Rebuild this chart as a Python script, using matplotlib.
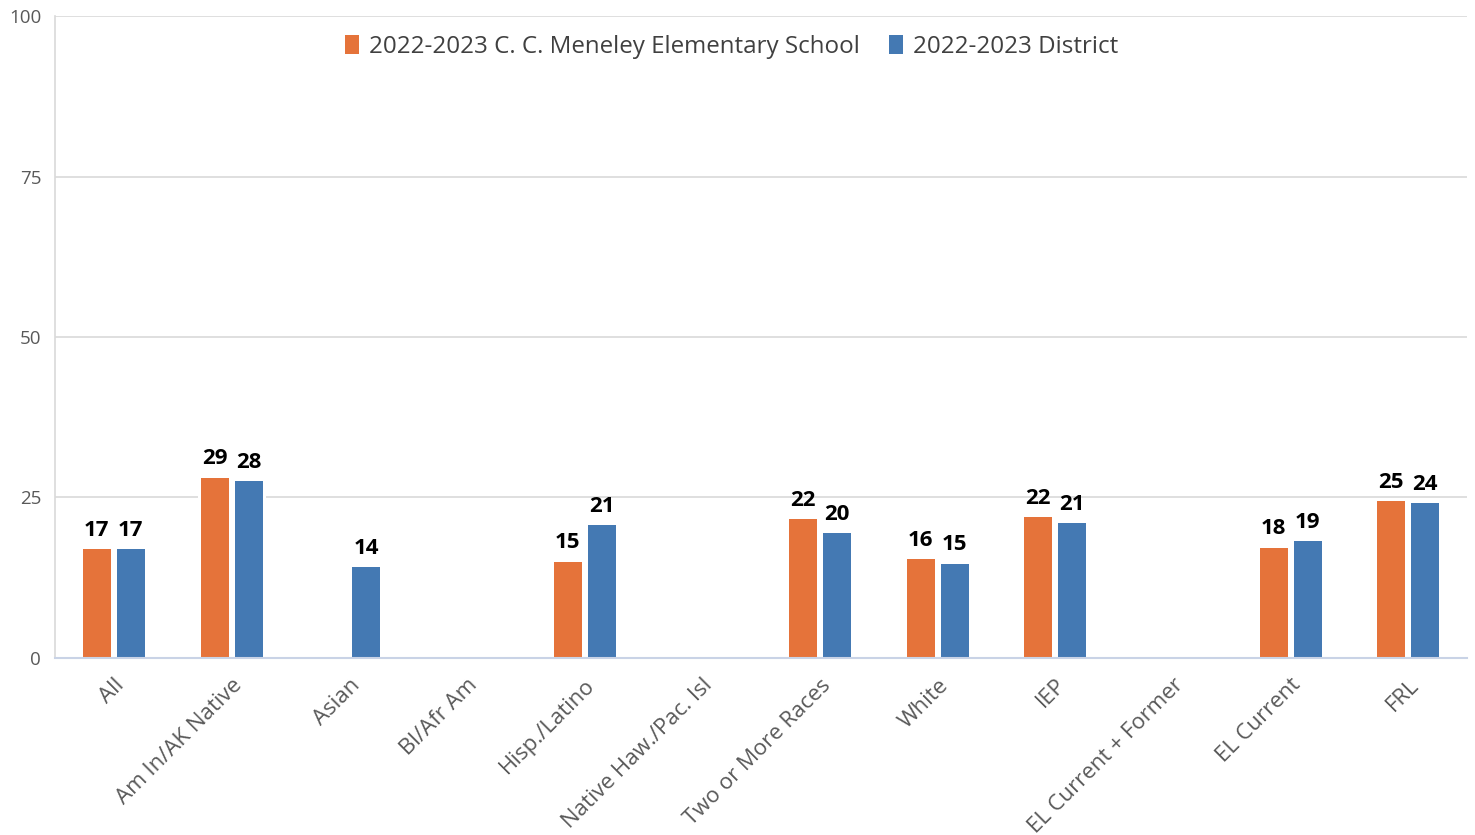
import matplotlib
matplotlib.use("Agg")
import matplotlib.pyplot as plt
import numpy as np

categories = ["All", "Am In/AK Native", "Asian", "Bl/Afr Am", "Hisp./Latino",
              "Native Haw./Pac. Isl", "Two or More Races", "White", "IEP",
              "EL Current + Former", "EL Current", "FRL"]
school = [16.9, 28.1, None, None, 15.0, None, 21.6, 15.4, 21.9, None, 17.2, 24.4]
district = [16.9, 27.5, 14.1, None, 20.7, None, 19.4, 14.7, 21.0, None, 18.2, 24.1]
school_labels = ["17", "29", "", "", "15", "", "22", "16", "22", "", "18", "25"]
district_labels = ["17", "28", "14", "", "21", "", "20", "15", "21", "", "19", "24"]
series_names = ["2022-2023 C. C. Meneley Elementary School", "2022-2023 District"]
yticks = [0, 25, 50, 75, 100]

plt.rcParams['font.family'] = ['Open Sans', 'DejaVu Sans']

orange = "#E5733A"
blue = "#4479B3"

fig = plt.figure(figsize=(14.75, 8.35), dpi=100)
ax = fig.add_axes([0.0373, 0.212, 0.9573, 0.7688])

x = np.arange(len(categories))
slot = 0.289
w = 0.238
for vals, labs, off, col, name in [(school, school_labels, -slot / 2, orange, series_names[0]),
                                  (district, district_labels, slot / 2, blue, series_names[1])]:
    xs = [xi + off for xi, v in zip(x, vals) if v is not None]
    vs = [v for v in vals if v is not None]
    ls = [l for l, v in zip(labs, vals) if v is not None]
    ax.bar(xs, vs, width=slot, color="white", linewidth=0, zorder=2.5)
    ax.bar(xs, vs, width=w, color=col, linewidth=0, label=name, zorder=3)
    for xi, v, l in zip(xs, vs, ls):
        ax.annotate(l, (xi, v), xytext=(0, 6), textcoords="offset points",
                    ha="center", va="bottom", fontsize=16, fontweight="bold", color="black", zorder=4)

ax.set_xlim(-0.5, len(categories) - 0.5)
ax.set_ylim(0, 100)
ax.set_yticks(yticks)
ax.set_yticklabels([str(t) for t in yticks], fontsize=13.5, color="#595959")
ax.yaxis.grid(True, color="#D9D9D9", linewidth=1.2, zorder=0)
ax.set_axisbelow(True)
ax.tick_params(axis="y", length=0, pad=10)
ax.tick_params(axis="x", length=0, pad=12)

ax.set_xticks(x)
ax.set_xticklabels(categories, rotation=45, ha="right", rotation_mode="anchor",
                   fontsize=16, color="#595959")

for s in ["top", "right"]:
    ax.spines[s].set_visible(False)
ax.spines["left"].set_color("#D9D9D9")
ax.spines["left"].set_linewidth(1.2)
ax.spines["bottom"].set_color("#C9D3E6")
ax.spines["bottom"].set_linewidth(1.5)
ax.spines["bottom"].set_zorder(5)

leg = ax.legend(loc="upper center", bbox_to_anchor=(0.479, 1.004), ncol=2, frameon=False,
                fontsize=17.4, handlelength=0.6, handleheight=0.85, handletextpad=0.4,
                columnspacing=1.2, labelcolor="#404040")

fig.savefig("out.png", dpi=100, facecolor="white")
